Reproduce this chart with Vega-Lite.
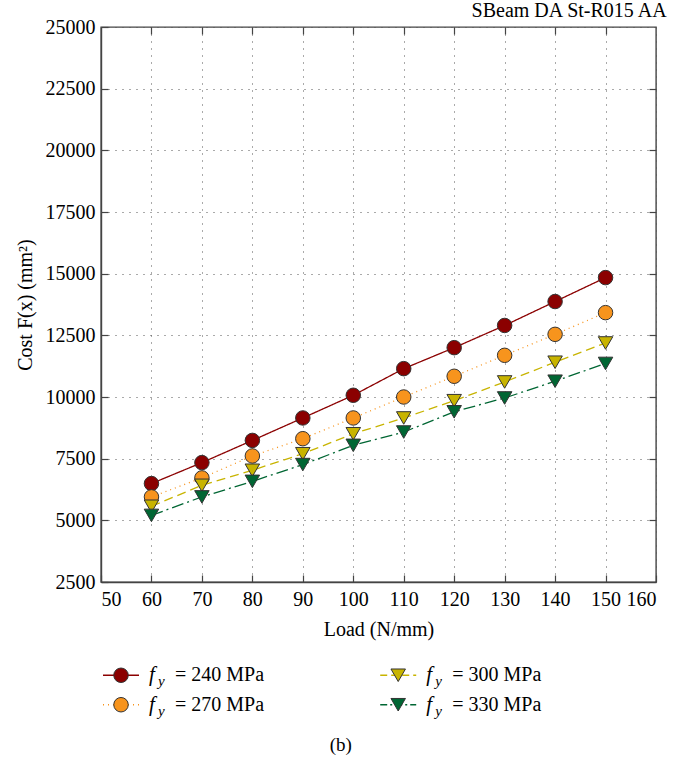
{
  "$schema": "https://vega.github.io/schema/vega-lite/v6.json",
  "padding": {"left": 14, "top": 0, "right": 10, "bottom": 6},
  "background": "white",
  "spacing": 22,
  "config": {
    "font": "Liberation Serif, serif",
    "view": {"stroke": "#444", "strokeWidth": 1.4},
    "axis": {
      "labelFont": "Liberation Serif, serif",
      "titleFont": "Liberation Serif, serif",
      "labelFontSize": 20,
      "titleFontSize": 20,
      "titleFontWeight": "normal",
      "labelColor": "black",
      "titleColor": "black",
      "domainColor": "#444",
      "domainWidth": 1.4,
      "tickColor": "#444",
      "tickWidth": 1.2,
      "gridColor": "#555",
      "gridDash": [1, 6],
      "gridWidth": 1
    },
    "text": {"font": "Liberation Serif, serif"},
    "title": {"font": "Liberation Serif, serif", "fontSize": 20, "fontWeight": "normal", "color": "black"}
  },
  "title": {"text": "(b)", "orient": "bottom", "anchor": "middle", "fontSize": 19, "offset": 17},
  "vconcat": [
    {
      "width": 555,
      "height": 555,
      "title": {"text": "SBeam DA St-R015 AA", "anchor": "end", "offset": -4, "dx": 10},
      "data": {
        "values": [
          {"load": 60, "cost": 6490, "fy": "240"},
          {"load": 70, "cost": 7340, "fy": "240"},
          {"load": 80, "cost": 8240, "fy": "240"},
          {"load": 90, "cost": 9150, "fy": "240"},
          {"load": 100, "cost": 10070, "fy": "240"},
          {"load": 110, "cost": 11150, "fy": "240"},
          {"load": 120, "cost": 12000, "fy": "240"},
          {"load": 130, "cost": 12900, "fy": "240"},
          {"load": 140, "cost": 13870, "fy": "240"},
          {"load": 150, "cost": 14840, "fy": "240"},
          {"load": 60, "cost": 5950, "fy": "270"},
          {"load": 70, "cost": 6720, "fy": "270"},
          {"load": 80, "cost": 7610, "fy": "270"},
          {"load": 90, "cost": 8310, "fy": "270"},
          {"load": 100, "cost": 9150, "fy": "270"},
          {"load": 110, "cost": 10000, "fy": "270"},
          {"load": 120, "cost": 10840, "fy": "270"},
          {"load": 130, "cost": 11690, "fy": "270"},
          {"load": 140, "cost": 12540, "fy": "270"},
          {"load": 150, "cost": 13420, "fy": "270"},
          {"load": 60, "cost": 5570, "fy": "300"},
          {"load": 70, "cost": 6420, "fy": "300"},
          {"load": 80, "cost": 7030, "fy": "300"},
          {"load": 90, "cost": 7700, "fy": "300"},
          {"load": 100, "cost": 8510, "fy": "300"},
          {"load": 110, "cost": 9150, "fy": "300"},
          {"load": 120, "cost": 9850, "fy": "300"},
          {"load": 130, "cost": 10610, "fy": "300"},
          {"load": 140, "cost": 11410, "fy": "300"},
          {"load": 150, "cost": 12190, "fy": "300"},
          {"load": 60, "cost": 5200, "fy": "330"},
          {"load": 70, "cost": 5950, "fy": "330"},
          {"load": 80, "cost": 6580, "fy": "330"},
          {"load": 90, "cost": 7260, "fy": "330"},
          {"load": 100, "cost": 8040, "fy": "330"},
          {"load": 110, "cost": 8580, "fy": "330"},
          {"load": 120, "cost": 9400, "fy": "330"},
          {"load": 130, "cost": 9960, "fy": "330"},
          {"load": 140, "cost": 10640, "fy": "330"},
          {"load": 150, "cost": 11360, "fy": "330"}
        ]
      },
      "encoding": {
        "color": {
          "field": "fy",
          "type": "nominal",
          "scale": {"domain": ["240", "270", "300", "330"], "range": ["#8b0000", "#f7941d", "#c8b400", "#006633"]},
          "legend": null
        },
        "shape": {
          "field": "fy",
          "type": "nominal",
          "scale": {"domain": ["240", "270", "300", "330"], "range": ["circle", "circle", "triangle-down", "triangle-down"]},
          "legend": null
        }
      },
      "layer": [
        {
          "mark": {"type": "line", "strokeWidth": 1.3},
          "encoding": {
            "x": {
              "field": "load", "type": "quantitative",
              "scale": {"domain": [50, 160], "nice": false},
              "axis": {"values": [50, 60, 70, 80, 90, 100, 110, 120, 130, 140, 150, 160], "title": "Load (N/mm)", "grid": true, "tickSize": -7, "labelPadding": 14, "titlePadding": 10}
            },
            "y": {
              "field": "cost", "type": "quantitative",
              "scale": {"domain": [2500, 25000], "nice": false},
              "axis": {"values": [2500, 5000, 7500, 10000, 12500, 15000, 17500, 20000, 22500, 25000], "format": "d", "title": "Cost F(x) (mm²)", "grid": true, "tickSize": -7, "labelPadding": 13, "titlePadding": 10}
            },
            "strokeDash": {
              "field": "fy", "type": "nominal",
              "scale": {"domain": ["240", "270", "300", "330"], "range": [[1, 0], [1, 4], [9, 5], [12, 4, 2, 4]]},
              "legend": null
            }
          }
        },
        {
          "mark": {"type": "point", "filled": true, "size": 210, "stroke": "#333", "strokeWidth": 1, "opacity": 1},
          "encoding": {
            "x": {
              "field": "load", "type": "quantitative",
              "axis": {"orient": "top", "values": [60, 70, 80, 90, 100, 110, 120, 130, 140, 150], "labels": false, "title": null, "grid": false, "domain": false, "tickSize": -7}
            },
            "y": {
              "field": "cost", "type": "quantitative",
              "axis": {"orient": "right", "values": [5000, 7500, 10000, 12500, 15000, 17500, 20000, 22500], "labels": false, "title": null, "grid": false, "domain": false, "tickSize": -7}
            }
          }
        }
      ],
      "resolve": {"axis": {"x": "independent", "y": "independent"}}
    },
    {
      "width": 555,
      "height": 56,
      "view": {"stroke": null},
      "data": {
        "values": [
          {"fy": "240", "col": 0, "row": 0, "label": "= 240 MPa"},
          {"fy": "270", "col": 0, "row": 1, "label": "= 270 MPa"},
          {"fy": "300", "col": 1, "row": 0, "label": "= 300 MPa"},
          {"fy": "330", "col": 1, "row": 1, "label": "= 330 MPa"}
        ]
      },
      "encoding": {
        "x": {"field": "col", "type": "quantitative", "scale": {"domain": [-0.0722, 1.93], "nice": false, "zero": false}, "axis": null},
        "y": {"field": "row", "type": "quantitative", "scale": {"domain": [-0.45, 1.45], "reverse": true, "nice": false, "zero": false}, "axis": null}
      },
      "layer": [
        {
          "mark": {"type": "rule", "strokeWidth": 1.3, "xOffset": -18, "x2Offset": 18},
          "encoding": {
            "x2": {"field": "col"},
            "color": {"field": "fy", "type": "nominal", "scale": {"domain": ["240", "270", "300", "330"], "range": ["#8b0000", "#f7941d", "#c8b400", "#006633"]}, "legend": null},
            "strokeDash": {"field": "fy", "type": "nominal", "scale": {"domain": ["240", "270", "300", "330"], "range": [[1, 0], [1, 4], [7, 4], [7, 3, 2, 3]]}, "legend": null}
          }
        },
        {
          "mark": {"type": "point", "filled": true, "size": 210, "stroke": "#333", "strokeWidth": 1, "opacity": 1},
          "encoding": {
            "color": {"field": "fy", "type": "nominal", "scale": {"domain": ["240", "270", "300", "330"], "range": ["#8b0000", "#f7941d", "#c8b400", "#006633"]}, "legend": null},
            "shape": {"field": "fy", "type": "nominal", "scale": {"domain": ["240", "270", "300", "330"], "range": ["circle", "circle", "triangle-down", "triangle-down"]}, "legend": null}
          }
        },
        {
          "mark": {"type": "text", "text": "f", "font": "Liberation Serif, serif", "fontStyle": "italic", "fontSize": 21, "align": "left", "baseline": "middle", "dx": 28, "dy": 0, "color": "black"}
        },
        {
          "mark": {"type": "text", "text": "y", "font": "Liberation Serif, serif", "fontStyle": "italic", "fontSize": 15, "align": "left", "baseline": "middle", "dx": 37, "dy": 6, "color": "black"}
        },
        {
          "mark": {"type": "text", "font": "Liberation Serif, serif", "fontSize": 20, "align": "left", "baseline": "middle", "dx": 54, "color": "black"},
          "encoding": {"text": {"field": "label", "type": "nominal"}}
        }
      ]
    }
  ],
  "resolve": {"scale": {"color": "independent", "shape": "independent", "strokeDash": "independent", "x": "independent", "y": "independent"}}
}
